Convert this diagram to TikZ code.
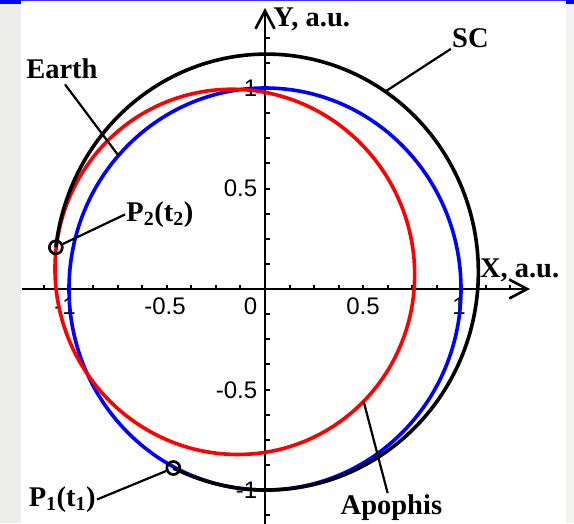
\documentclass[tikz,border=0pt]{standalone}
\usepackage{fontspec}
\setmainfont{Liberation Serif}
\newfontfamily\ticksans{Liberation Sans}
\usetikzlibrary{arrows.meta}
\definecolor{earthblue}{HTML}{0000FF}
\definecolor{apored}{HTML}{FF0000}
\definecolor{sidegray}{HTML}{EDEEEC}
\definecolor{rimblue}{HTML}{3535EE}
\tikzset{>={Straight Barb[length=18pt,width=19pt]},line width=.8pt,
  every node/.style={font=\fontsize{28.5}{31}\selectfont\bfseries,inner sep=1pt},
  axis/.style={->,line width=2.6pt},
  tickmark/.style={line width=2pt},
  orbit/.style={line width=3.6pt},
  leader/.style={line width=2.2pt},
  marker/.style={circle,draw,line width=2.7pt,inner sep=0pt,minimum size=13pt},
  numlabel/.style={font=\fontsize{24}{26}\selectfont\ticksans}}

\begin{document}
\begin{tikzpicture}[x=196pt,y=201pt,line width=.8pt]
\useasboundingbox (-1.352,-1.1642) rectangle (1.5765,1.4378);
% frame of the slide
\fill[sidegray] (-1.352,-1.1642) rectangle (-1.245,1.4378);
\fill[sidegray!70!white] (1.5357,-1.1642) rectangle (1.5765,1.4378);
\fill[rimblue] (-1.352,1.4378) rectangle (1.5765,1.4313);
\fill[earthblue] (-1.352,1.4378) rectangle (-1.245,1.4179);\fill[earthblue] (1.5357,1.4378) rectangle (1.5765,1.4179);
% tick numbers
\node[numlabel] (xm1) at (-1.02,-0.085) {-1};
\node[numlabel] (xm05) at (-0.51,-0.085) {-0.5};
\node[numlabel,anchor=east] (xzero) at (-0.033,-0.085) {0};
\node[numlabel] (xp05) at (0.5,-0.085) {0.5};
\node[numlabel] (xp1) at (0.99,-0.085) {1};
\node[numlabel,anchor=east] (y1) at (-0.033,1) {1};
\node[numlabel,anchor=east] (y05) at (-0.033,0.5) {0.5};
\node[numlabel,anchor=east] (ym05) at (-0.033,-0.505) {-0.5};
\node[numlabel,anchor=east] (ym1) at (-0.033,-1) {-1};
% axes
\draw[axis] (-1.241,0) -- (1.352,0);
\draw[axis] (0,-1.17) -- (0,1.398);
\foreach \k in {-9,...,10} {\draw[tickmark] ({\k/8},0) -- ++(0,0.0214);\draw[tickmark] (0,{\k/8}) -- ++(0.0255,0);}
% orbits
\draw[orbit,earthblue] (0,0) circle[radius=1];
\draw[orbit,apored] plot[domain=0:360,samples=200,variable=\t] ({\t}:{0.888/(1+0.191*cos(\t+29))}) -- cycle;
\draw[orbit] plot[domain=242.3:529,samples=200,variable=\t] ({\t}:{1.078/(1+0.078*cos(\t-265))});
\node[marker] (p1) at (242.3:1.006) {};
\node[marker] (p2) at (169:1.087) {};
\coordinate (earthpt) at (138.4:1);
\coordinate (scpt) at (58:1.1585);
\coordinate (apopt) at (-48:0.752);
% labels
\node (earth) at (-1.036,1.095) {Earth};
\node (sc) at (1.048,1.249) {SC};
\node (apophis) at (0.645,-1.087) {Apophis};
\node[anchor=west] (p2lab) at (-0.714,0.371) {P\textsubscript{2}(t\textsubscript{2})};
\node[anchor=east] (p1lab) at (-0.857,-1.047) {P\textsubscript{1}(t\textsubscript{1})};
\node[anchor=base west] (ylab) at (0.036,1.3035) {Y, a.u.};
\node[anchor=base west] (xlab) at (1.09,0.0597) {X, a.u.};
\draw[leader,shorten <=5pt] (earth.south) -- (earthpt);\draw[leader] (sc.south west) -- (scpt);\draw[leader] (apophis) -- (apopt);
\draw[leader] (p2lab.west) -- (p2);\draw[leader] (p1lab.east) -- (p1);
\end{tikzpicture}
\end{document}
